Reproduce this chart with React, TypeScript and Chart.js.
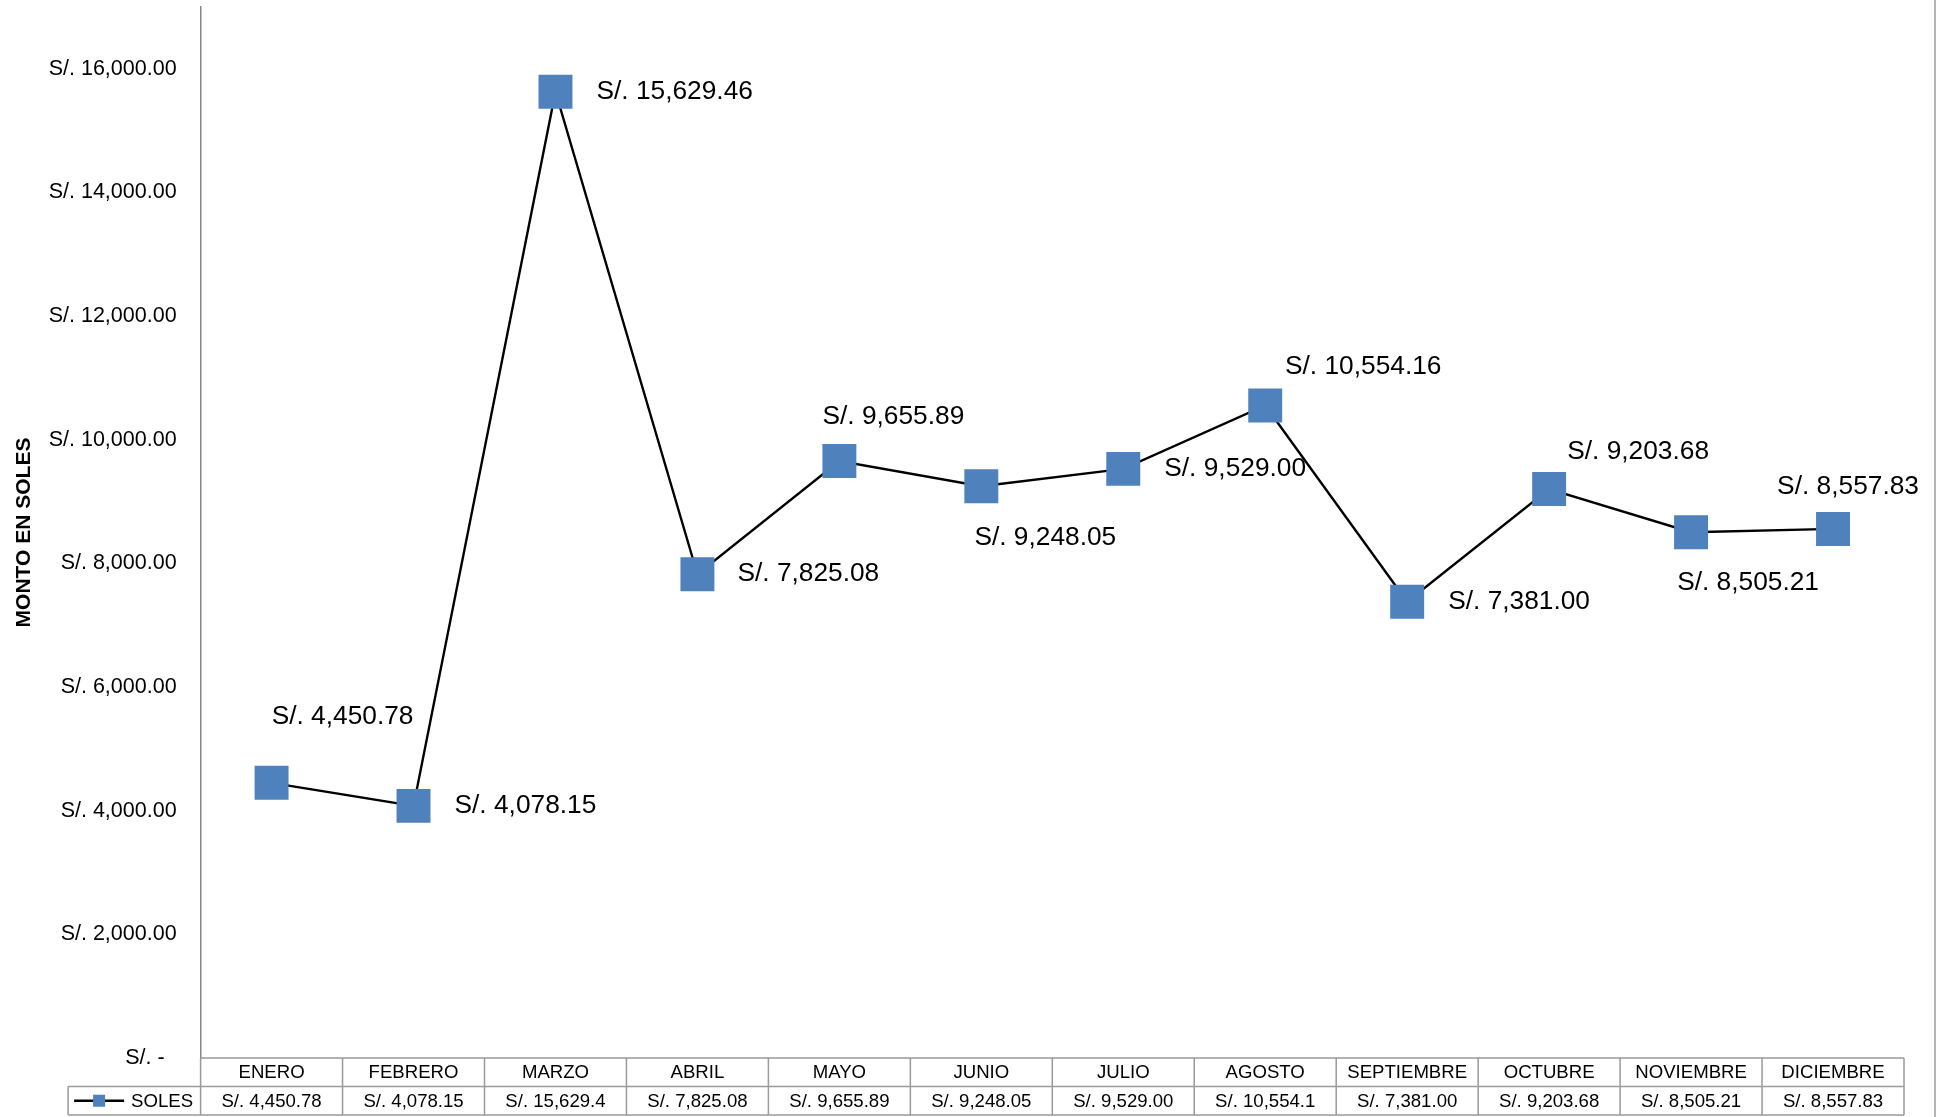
import React, { useEffect, useRef } from "react";
import { Chart, registerables } from "chart.js";

Chart.register(...registerables);

const MONTHS = ["ENERO", "FEBRERO", "MARZO", "ABRIL", "MAYO", "JUNIO", "JULIO", "AGOSTO", "SEPTIEMBRE", "OCTUBRE", "NOVIEMBRE", "DICIEMBRE"];
const SOLES = [4450.78, 4078.15, 15629.46, 7825.08, 9655.89, 9248.05, 9529.0, 10554.16, 7381.0, 9203.68, 8505.21, 8557.83];
const TABLE_TEXT = ["S/. 4,450.78", "S/. 4,078.15", "S/. 15,629.4", "S/. 7,825.08", "S/. 9,655.89", "S/. 9,248.05", "S/. 9,529.00", "S/. 10,554.1", "S/. 7,381.00", "S/. 9,203.68", "S/. 8,505.21", "S/. 8,557.83"];
const Y_TICKS = [0, 2000, 4000, 6000, 8000, 10000, 12000, 14000, 16000];
const Y_TICK_LABELS = ["S/. -  ", "S/. 2,000.00", "S/. 4,000.00", "S/. 6,000.00", "S/. 8,000.00", "S/. 10,000.00", "S/. 12,000.00", "S/. 14,000.00", "S/. 16,000.00"];
const SERIES_NAME = "SOLES";
const Y_TITLE = "MONTO EN SOLES";
const Y_MAX = 17000;

// label placement (style): [align, dx, dy]
const LABEL_PLACE: [CanvasTextAlign, number, number][] = [
  ["center", 71, -66],
  ["left", 41, 0],
  ["left", 41, 0],
  ["left", 40, 0],
  ["center", 54, -44],
  ["center", 64, 51],
  ["left", 41, 0],
  ["center", 98, -39],
  ["left", 41, 0],
  ["center", 89, -37],
  ["center", 57, 51],
  ["center", 15, -42],
];

const FONT = "'Liberation Sans', Arial, sans-serif";
const BLUE = "#4F81BD";
const GRAY = "#9a9a9a";

const fmt = (v: number) => "S/. " + v.toLocaleString("en-US", { minimumFractionDigits: 2, maximumFractionDigits: 2 });

const extrasPlugin = {
  id: "extras",
  afterDatasetsDraw(chart: any) {
    const ctx = chart.ctx;
    const meta = chart.getDatasetMeta(0);
    ctx.save();
    ctx.font = `26.3px ${FONT}`;
    ctx.fillStyle = "#000";
    ctx.textBaseline = "middle";
    meta.data.forEach((pt: any, i: number) => {
      const [align, dx, dy] = LABEL_PLACE[i];
      ctx.textAlign = align;
      ctx.fillText(fmt(SOLES[i]), pt.x + dx, pt.y + dy);
    });
    ctx.restore();
  },
  afterDraw(chart: any) {
    const ctx = chart.ctx;
    const area = chart.chartArea;
    const xs = chart.scales.x;
    const n = MONTHS.length;
    const colW = (area.right - area.left) / n;
    const rowH = 28.5;
    const y0 = area.bottom;
    const y1 = y0 + rowH;
    const y2 = y1 + rowH;
    const legLeft = area.left - 132.5;
    ctx.save();
    ctx.strokeStyle = GRAY;
    ctx.lineWidth = 1.5;
    ctx.beginPath();
    ctx.moveTo(area.left, y0);
    ctx.lineTo(area.right, y0);
    ctx.moveTo(legLeft, y1);
    ctx.lineTo(area.right, y1);
    ctx.moveTo(legLeft, y2);
    ctx.lineTo(area.right, y2);
    for (let i = 0; i <= n; i++) {
      const x = area.left + i * colW;
      ctx.moveTo(x, y0);
      ctx.lineTo(x, y2);
    }
    ctx.moveTo(legLeft, y1);
    ctx.lineTo(legLeft, y2);
    // outer right border
    ctx.moveTo(chart.width - 6, 0);
    ctx.lineTo(chart.width - 6, chart.height);
    ctx.stroke();

    ctx.fillStyle = "#000";
    ctx.font = `18.6px ${FONT}`;
    ctx.textAlign = "center";
    ctx.textBaseline = "middle";
    MONTHS.forEach((m, i) => {
      const cx = xs.getPixelForValue(i);
      ctx.fillText(m, cx, (y0 + y1) / 2 + 1);
      ctx.fillText(TABLE_TEXT[i], cx, (y1 + y2) / 2 + 1);
    });
    // legend key
    const ly = (y1 + y2) / 2;
    ctx.strokeStyle = "#000";
    ctx.lineWidth = 2.4;
    ctx.beginPath();
    ctx.moveTo(legLeft + 6, ly);
    ctx.lineTo(legLeft + 56, ly);
    ctx.stroke();
    ctx.fillStyle = BLUE;
    ctx.fillRect(legLeft + 25, ly - 6, 12, 12);
    ctx.fillStyle = "#000";
    ctx.textAlign = "left";
    ctx.fillText(SERIES_NAME, legLeft + 63, ly + 1);
    ctx.restore();
  },
};

export default function App() {
  const ref = useRef<HTMLCanvasElement | null>(null);
  useEffect(() => {
    document.body.style.margin = "0";
    const chart = new Chart(ref.current as HTMLCanvasElement, {
      type: "line",
      data: {
        labels: MONTHS,
        datasets: [
          {
            label: SERIES_NAME,
            data: SOLES,
            borderColor: "#000",
            borderWidth: 2.4,
            pointStyle: "rect",
            pointRadius: 24,
            pointHoverRadius: 24,
            pointHitRadius: 0,
            pointBackgroundColor: BLUE,
            pointBorderColor: BLUE,
            pointBorderWidth: 0,
            tension: 0,
          },
        ],
      },
      options: {
        responsive: false,
        animation: false,
        devicePixelRatio: 1,
        events: [],
        layout: { autoPadding: false, padding: { top: 7, right: 37, bottom: 59, left: 0 } },
        plugins: { legend: { display: false }, tooltip: { enabled: false } },
        scales: {
          x: { display: false, offset: true },
          y: {
            min: 0,
            max: Y_MAX,
            afterFit: (s: any) => {
              s.width = 200.6;
            },
            afterBuildTicks: (s: any) => {
              s.ticks = Y_TICKS.map((v) => ({ value: v }));
            },
            grid: {
              display: true,
              drawOnChartArea: false,
              drawTicks: true,
              tickLength: 30,
              tickColor: "rgba(0,0,0,0)",
              color: "rgba(0,0,0,0)",
            },
            border: { display: true, color: "#868686", width: 1.5 },
            ticks: {
              autoSkip: false,
              padding: -6,
              color: "#000",
              font: { family: FONT, size: 21.5 },
              callback: (v: any, i: number) => Y_TICK_LABELS[i] ?? "",
            },
            title: {
              display: true,
              text: Y_TITLE,
              color: "#000",
              font: { family: FONT, size: 21, weight: "bold" },
              padding: { top: 12, bottom: 0 },
            },
          },
        },
      },
      plugins: [extrasPlugin],
    });
    return () => chart.destroy();
  }, []);
  return (
    <div style={{ position: "absolute", left: 0, top: 0, width: 1941, height: 1117, background: "#fff" }}>
      <canvas ref={ref} width={1941} height={1117} />
    </div>
  );
}
